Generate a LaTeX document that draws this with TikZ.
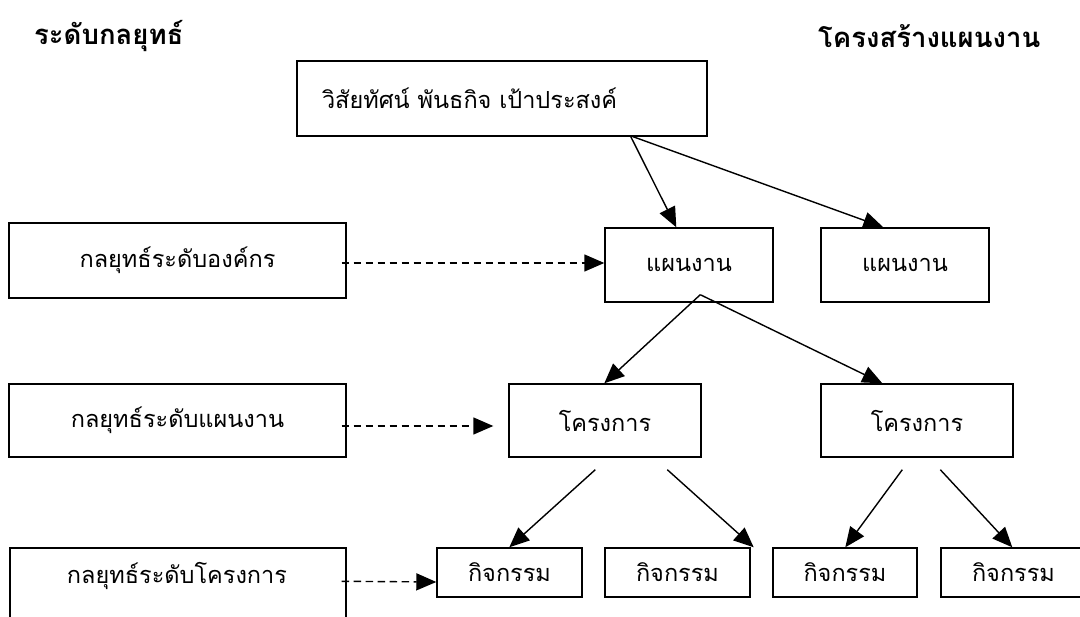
\documentclass[tikz,border=0pt]{standalone}
\usepackage{fontspec}
\newfontfamily\thaifont[Script=Thai]{Loma}
\usetikzlibrary{arrows.meta,calc}

\begin{document}
\begin{tikzpicture}[x=1pt,y=-1pt,
  label/.style={font=\thaifont\fontsize{23.5}{26}\selectfont},
  box/.style={draw, line width=1.4pt, inner sep=0pt, label},
  heading/.style={anchor=west, inner sep=0pt, font=\thaifont\bfseries\fontsize{27.5}{30}\selectfont},
  arr/.style={line width=1.4pt, -{Triangle[length=20pt,width=17pt]}},
  dasharr/.style={arr, dash pattern=on 7.5pt off 4.5pt}]

\useasboundingbox (0,0) rectangle (1080,617);
\clip (0,0) rectangle (1080,617);

% headings
\node[heading] (hl) at (34,36) {ระดับกลยุทธ์};
\node[heading] (hr) at (818,36) {โครงสร้างแผนงาน};

% top box: vision, mission, goals
\node[box, minimum height=75pt, text width=360pt, inner xsep=25pt, align=left]
  (vis) at (502,98.5) {วิสัยทัศน์ พันธกิจ เป้าประสงค์};

% strategy levels on the left
\node[box, minimum width=337pt, minimum height=75pt] (s1) at (177.5,260.5) {กลยุทธ์ระดับองค์กร};
\node[box, minimum width=337pt, minimum height=73pt] (s2) at (177.5,420.5) {กลยุทธ์ระดับแผนงาน};
\node[box, minimum width=336pt, minimum height=100pt] (s3) at (178,598) {};
\node[label, anchor=center, inner sep=0pt] (s3t) at (177,576) {กลยุทธ์ระดับโครงการ};

% plans
\node[box, minimum width=168pt, minimum height=74pt] (p1) at (689,265) {แผนงาน};
\node[box, minimum width=168pt, minimum height=74pt] (p2) at (905,265) {แผนงาน};

% projects
\node[box, minimum width=192pt, minimum height=73pt] (j1) at (605,420.5) {โครงการ};
\node[box, minimum width=192pt, minimum height=73pt] (j2) at (917,420.5) {โครงการ};

% activities
\node[box, minimum width=145pt, minimum height=49pt] (a1) at (509.5,572.5) {กิจกรรม};
\node[box, minimum width=145pt, minimum height=49pt] (a2) at (677.5,572.5) {กิจกรรม};
\node[box, minimum width=144pt, minimum height=49pt] (a3) at (845,572.5) {กิจกรรม};
\node[box, minimum width=145pt, minimum height=49pt] (a4) at (1013.5,572.5) {กิจกรรม};

% free ends of the connectors
\coordinate (visout) at ($(vis.south west)+(334,-1)$);
\coordinate (p1out) at ($(p1.south west)+(96,-8)$);
\coordinate (j1l) at ($(j1.south west)+(87,12)$);
\coordinate (j1r) at ($(j1.south west)+(159,12)$);
\coordinate (j2l) at ($(j2.south west)+(82,12)$);
\coordinate (j2r) at ($(j2.south west)+(120,12)$);

% hierarchy arrows
\draw[arr] (visout) -- ($(p1.north west)+(72,0)$);
\draw[arr] (visout) -- ($(p2.north west)+(63,0)$);
\draw[arr] (p1out) -- ($(j1.north west)+(96,0)$);
\draw[arr] (p1out) -- ($(j2.north west)+(62,0)$);
\draw[arr] (j1l) -- ($(a1.north west)+(73,0)$);
\draw[arr] (j1r) -- ($(a2.north east)+(3,0)$);
\draw[arr] (j2l) -- ($(a3.north west)+(73,0)$);
\draw[arr] (j2r) -- ($(a4.north west)+(72,0)$);

% strategy level links
\draw[dasharr] ($(s1.east)+(-5,2.5)$) -- ($(p1.west)+(0,-2)$);
\draw[dasharr] ($(s2.east)+(-5,5.5)$) -- ($(j1.west)+(-15,5.5)$);
\draw[dasharr] ($(s3.north east)+(-5,34)$) -- ($(a1.west)+(0,9.5)$);
\end{tikzpicture}
\end{document}
